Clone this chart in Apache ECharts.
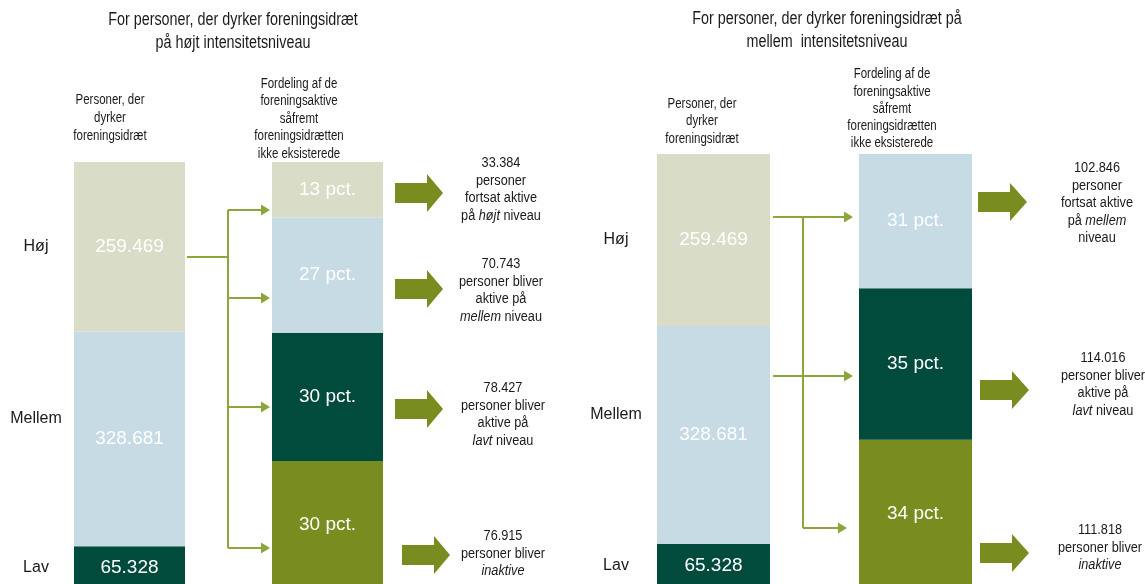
<!DOCTYPE html>
<html>
<head>
<meta charset="utf-8">
<script src="https://cdn.jsdelivr.net/npm/echarts@6/dist/echarts.min.js"></script>
<style>
html, body { margin: 0; padding: 0; background: #fff; }
#main { width: 1145px; height: 584px; }
</style>
</head>
<body>
<div id="main"></div>
<script>
// data
var niveauer = ['Høj', 'Mellem', 'Lav'];
var personerVenstre = [259469, 328681, 65328];
var personerHoejre = [259469, 328681, 65328];
// fordeling (pct.) hvis foreningsidrætten ikke eksisterede
var fordelingHoj = [13, 27, 30, 30];        // højt, mellem, lavt, inaktive
var fordelingMellem = [31, 35, 34];         // mellem, lavt, inaktive
var antalHoj = [33384, 70743, 78427, 76915];
var antalMellem = [102846, 114016, 111818];
var tekstHoj = ['personer\nfortsat aktive\npå {i|højt} niveau', 'personer bliver\naktive på\n{i|mellem} niveau',
  'personer bliver\naktive på\n{i|lavt} niveau', 'personer bliver\n{i|inaktive}'];
var tekstMellem = ['personer\nfortsat aktive\npå {i|mellem}\nniveau', 'personer bliver\naktive på\n{i|lavt} niveau',
  'personer bliver\n{i|inaktive}'];

var farver = { hoj: '#d9dcc7', mellem: '#c6dbe4', lav: '#004b3b', inaktiv: '#788c1f' };
var sans = "'Liberation Sans', Arial, sans-serif";
var pil = '#8ba63a';
var smal = 0.82; // ingen Arial Narrow -> presses vandret

var chart = echarts.init(document.getElementById('main'));

function fmt(n) {
    return n.toString().replace(/\B(?=(\d{3})+(?!\d))/g, '.');
}
function sum(a) { return a.reduce(function (s, v) { return s + v; }, 0); }

// midtpunkter for niveau-etiketter
function midter(vals) {
    var res = [];
    var acc = 0;
    for (var i = vals.length - 1; i >= 0; i--) {
        res[i] = acc + vals[i] / 2;
        acc += vals[i];
    }
    return res;
}

var grids = [
    { left: 74, top: 162, width: 111, height: 427, outerBoundsMode: 'none' },
    { left: 272, top: 162, width: 111, height: 427, outerBoundsMode: 'none' },
    { left: 657, top: 154, width: 113, height: 433, outerBoundsMode: 'none' },
    { left: 859, top: 154, width: 113, height: 433, outerBoundsMode: 'none' }
];

var xAxes = grids.map(function (g, i) {
    return { type: 'category', gridIndex: i, data: ['x'], show: false };
});

function niveauAxis(idx, vals, margin) {
    var mids = midter(vals);
    return {
        type: 'value', gridIndex: idx, min: 0, max: sum(vals),
        axisLine: { show: false }, axisTick: { show: false }, splitLine: { show: false },
        axisLabel: {
            show: true, customValues: mids, margin: margin, align: 'center',
            fontFamily: sans, fontSize: 16, color: '#1a1a1a', lineHeight: 20,
            formatter: function (v) {
                var best = 0;
                for (var i = 0; i < mids.length; i++) {
                    if (Math.abs(mids[i] - v) < Math.abs(mids[best] - v)) best = i;
                }
                return niveauer[best] === 'Mellem' ? 'Mellem\n\n' : niveauer[best];
            }
        }
    };
}

var yAxes = [
    niveauAxis(0, personerVenstre, 38),
    { type: 'value', gridIndex: 1, min: 0, max: sum(fordelingHoj), show: false },
    niveauAxis(2, personerHoejre, 41),
    { type: 'value', gridIndex: 3, min: 0, max: sum(fordelingMellem), show: false }
];

var series = [];
function stabel(idx, vals, cols, fmtFn) {
    // tegnes nedefra og op
    for (var i = vals.length - 1; i >= 0; i--) {
        series.push({
            type: 'bar', xAxisIndex: idx, yAxisIndex: idx, stack: 's' + idx,
            barWidth: '100%', data: [vals[i]],
            itemStyle: { color: cols[i] },
            label: {
                show: true, position: 'inside', color: '#fff',
                fontFamily: sans, fontSize: 19, formatter: function (p) { return fmtFn(p.value); }
            },
            silent: true
        });
    }
}
stabel(0, personerVenstre, [farver.hoj, farver.mellem, farver.lav], fmt);
stabel(1, fordelingHoj, [farver.hoj, farver.mellem, farver.lav, farver.inaktiv], function (v) { return v + ' pct.'; });
stabel(2, personerHoejre, [farver.hoj, farver.mellem, farver.lav], fmt);
stabel(3, fordelingMellem, [farver.mellem, farver.lav, farver.inaktiv], function (v) { return v + ' pct.'; });

// tekst
var graphic = [];
function tekst(x, y, txt, size, lh) {
    graphic.push({
        type: 'text', x: x, y: y, scaleX: smal, silent: true,
        style: {
            text: txt, fill: '#1a1a1a', fontFamily: sans, fontSize: size, lineHeight: lh,
            align: 'center', verticalAlign: 'top',
            rich: { i: { fontStyle: 'italic', fontFamily: sans, fontSize: size, lineHeight: lh, fill: '#1a1a1a' } }
        }
    });
}
tekst(233, 9, 'For personer, der dyrker foreningsidræt\npå højt intensitetsniveau', 17.5, 23);
tekst(827, 8, 'For personer, der dyrker foreningsidræt på\nmellem  intensitetsniveau', 17.5, 23);
tekst(110, 91, 'Personer, der\ndyrker\nforeningsidræt', 14, 18);
tekst(299, 75, 'Fordeling af de\nforeningsaktive\nsåfremt\nforeningsidrætten\nikke eksisterede', 14, 17.5);
tekst(702, 95, 'Personer, der\ndyrker\nforeningsidræt', 14, 17.5);
tekst(892, 66, 'Fordeling af de\nforeningsaktive\nsåfremt\nforeningsidrætten\nikke eksisterede', 14, 17.25);

var annVenstre = [[501, 154], [501, 255], [503, 379], [503, 527]];
antalHoj.forEach(function (v, i) {
    tekst(annVenstre[i][0], annVenstre[i][1], fmt(v) + '\n' + tekstHoj[i], 15.5, 17.5);
});
var annHoejre = [[1097, 159], [1103, 349], [1100, 521]];
antalMellem.forEach(function (v, i) {
    tekst(annHoejre[i][0], annHoejre[i][1], fmt(v) + '\n' + tekstMellem[i], 15.5, 17.5);
});

// forbindelseslinjer
function linje(pts) {
    graphic.push({ type: 'polyline', silent: true, shape: { points: pts }, style: { stroke: pil, lineWidth: 2, fill: null } });
}
function spids(x, y) {
    graphic.push({ type: 'polygon', silent: true, shape: { points: [[x - 9, y - 5.5], [x, y], [x - 9, y + 5.5]] }, style: { fill: pil } });
}
linje([[187, 257], [228, 257]]);
linje([[228, 210], [228, 548]]);
[210, 298, 407, 548].forEach(function (y) { linje([[228, y], [262, y]]); spids(270, y); });

linje([[773, 217], [845, 217]]); spids(853, 217);
linje([[773, 376], [845, 376]]); spids(853, 376);
linje([[803, 217], [803, 528]]);
linje([[803, 528], [839, 528]]); spids(847, 528);

// store pile
function blokpil(x0, x1, x2, cy) {
    var bh = 10, hh = 19;
    graphic.push({
        type: 'polygon', silent: true,
        shape: { points: [[x0, cy - bh], [x1, cy - bh], [x1, cy - hh], [x2, cy], [x1, cy + hh], [x1, cy + bh], [x0, cy + bh]] },
        style: { fill: farver.inaktiv }
    });
}
blokpil(395, 427, 443, 193);
blokpil(395, 427, 443, 289);
blokpil(395, 427, 443, 409);
blokpil(402, 434, 450, 555);
blokpil(978, 1010, 1027, 202);
blokpil(980, 1012, 1029, 390);
blokpil(980, 1012, 1029, 553);

chart.setOption({
    animation: false,
    grid: grids,
    xAxis: xAxes,
    yAxis: yAxes,
    series: series,
    graphic: graphic
});
</script>
</body>
</html>
